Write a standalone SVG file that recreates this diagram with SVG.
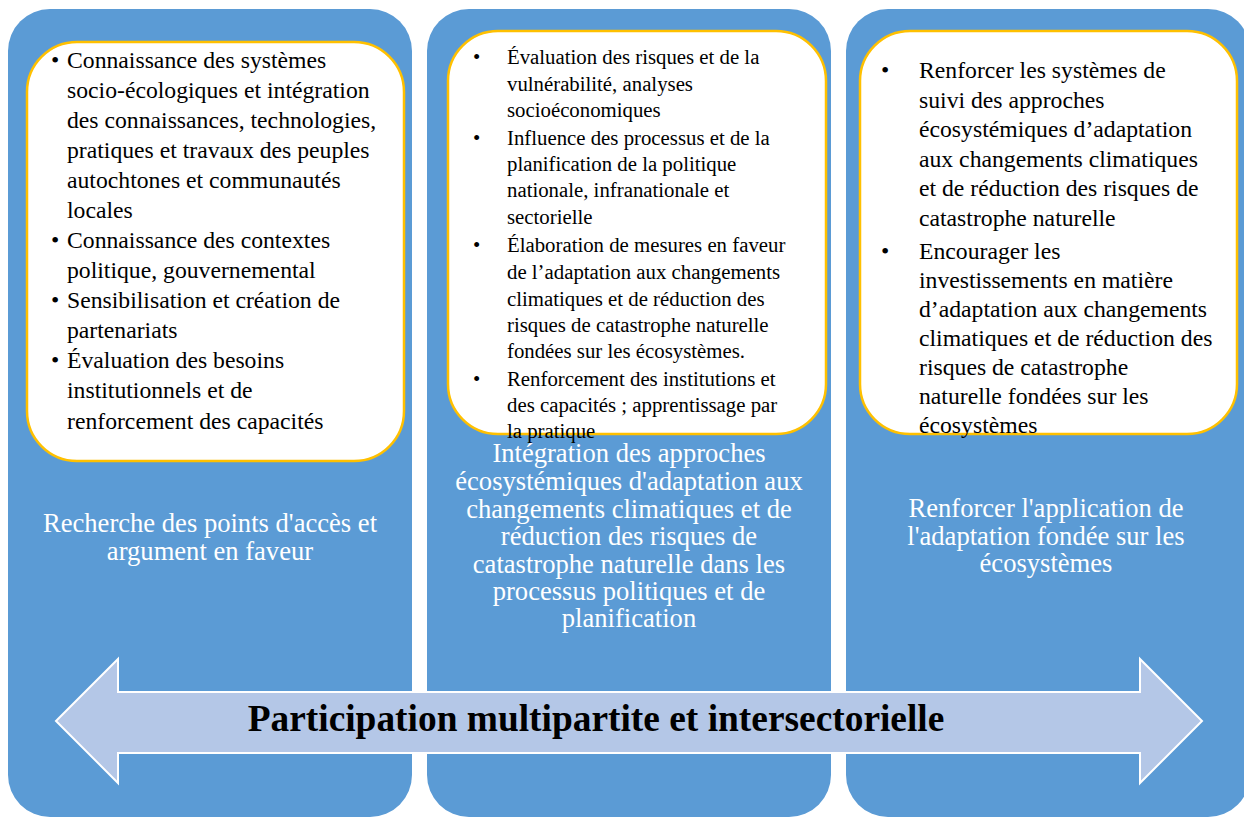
<svg xmlns="http://www.w3.org/2000/svg" width="1244" height="817" viewBox="0 0 1244 817">
<style>
.panel{fill:#5B9BD5}
.box{fill:#FFFFFF;stroke:#FFC000;stroke-width:2.5}
.t{font-family:'Liberation Serif','Times New Roman',serif;fill:#000}
.b1{font-size:23.7px}
.b2{font-size:20.8px}
.lbl{font-family:'Liberation Serif','Times New Roman',serif;fill:#FFFFFF;font-size:26.6px;text-anchor:middle}
.arrow{fill:#B4C7E7;stroke:#FFFFFF;stroke-width:2}
.at{font-family:'Liberation Serif','Times New Roman',serif;font-weight:bold;font-size:37.4px;fill:#000;text-anchor:middle}
</style>
<rect width="1244" height="817" fill="#FFFFFF"/>
<g id="panel1">
<rect class="panel" x="8" y="9" width="404" height="808" rx="42"/>
<rect class="box" x="27" y="42" width="377" height="419" rx="50"/>
<g class="t b1">
<text x="51" y="68">•</text>
<text x="67" y="68">Connaissance des systèmes</text>
<text x="67" y="98">socio-écologiques et intégration</text>
<text x="67" y="128">des connaissances, technologies,</text>
<text x="67" y="158">pratiques et travaux des peuples</text>
<text x="67" y="188">autochtones et communautés</text>
<text x="67" y="218">locales</text>
<text x="51" y="248">•</text>
<text x="67" y="248">Connaissance des contextes</text>
<text x="67" y="278">politique, gouvernemental</text>
<text x="51" y="308">•</text>
<text x="67" y="308">Sensibilisation et création de</text>
<text x="67" y="338">partenariats</text>
<text x="51" y="368">•</text>
<text x="67" y="368">Évaluation des besoins</text>
<text x="67" y="398">institutionnels et de</text>
<text x="67" y="429">renforcement des capacités</text>
</g>
<text class="lbl" x="210" y="532">Recherche des points d'accès et</text>
<text class="lbl" x="210" y="560">argument en faveur</text>
</g>
<g id="panel2">
<rect class="panel" x="427" y="9" width="404" height="808" rx="42"/>
<rect class="box" x="448" y="31" width="378" height="403" rx="50"/>
<g class="t b2">
<text x="473" y="64">•</text>
<text x="507" y="64">Évaluation des risques et de la</text>
<text x="507" y="91">vulnérabilité, analyses</text>
<text x="507" y="117">socioéconomiques</text>
<text x="473" y="145">•</text>
<text x="507" y="145">Influence des processus et de la</text>
<text x="507" y="171">planification de la politique</text>
<text x="507" y="197">nationale, infranationale et</text>
<text x="507" y="224">sectorielle</text>
<text x="473" y="252">•</text>
<text x="507" y="252">Élaboration de mesures en faveur</text>
<text x="507" y="279">de l’adaptation aux changements</text>
<text x="507" y="306">climatiques et de réduction des</text>
<text x="507" y="332">risques de catastrophe naturelle</text>
<text x="507" y="358">fondées sur les écosystèmes.</text>
<text x="473" y="386">•</text>
<text x="507" y="386">Renforcement des institutions et</text>
<text x="507" y="412">des capacités ; apprentissage par</text>
<text x="507" y="438">la pratique</text>
</g>
<text class="lbl" x="629" y="462">Intégration des approches</text>
<text class="lbl" x="629" y="490">écosystémiques d'adaptation aux</text>
<text class="lbl" x="629" y="518">changements climatiques et de</text>
<text class="lbl" x="629" y="545">réduction des risques de</text>
<text class="lbl" x="629" y="573">catastrophe naturelle dans les</text>
<text class="lbl" x="629" y="600">processus politiques et de</text>
<text class="lbl" x="629" y="627">planification</text>
</g>
<g id="panel3">
<rect class="panel" x="846" y="9" width="404" height="808" rx="42"/>
<rect class="box" x="860" y="31" width="377" height="403" rx="50"/>
<g class="t b1">
<text x="881" y="78">•</text>
<text x="919" y="78">Renforcer les systèmes de</text>
<text x="919" y="108">suivi des approches</text>
<text x="919" y="137">écosystémiques d’adaptation</text>
<text x="919" y="167">aux changements climatiques</text>
<text x="919" y="196">et de réduction des risques de</text>
<text x="919" y="226">catastrophe naturelle</text>
<text x="881" y="259">•</text>
<text x="919" y="259">Encourager les</text>
<text x="919" y="288">investissements en matière</text>
<text x="919" y="317">d’adaptation aux changements</text>
<text x="919" y="346">climatiques et de réduction des</text>
<text x="919" y="375">risques de catastrophe</text>
<text x="919" y="404">naturelle fondées sur les</text>
<text x="919" y="433">écosystèmes</text>
</g>
<text class="lbl" x="1046" y="517">Renforcer l'application de</text>
<text class="lbl" x="1046" y="545">l'adaptation fondée sur les</text>
<text class="lbl" x="1046" y="572">écosystèmes</text>
</g>
<g id="connectors">
<g id="arrow">
<polygon class="arrow" points="56,721 118,659 118,692 1140,692 1140,659 1202,721 1140,783 1140,753 118,753 118,783"/>
<text class="at" x="596" y="731">Participation multipartite et intersectorielle</text>
</g>
</g>
</svg>
